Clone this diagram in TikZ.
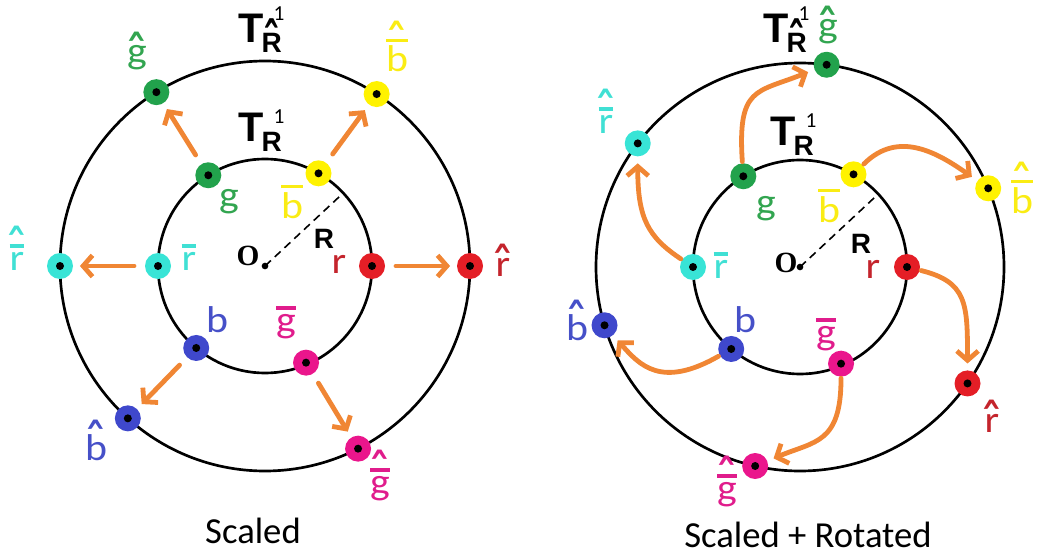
\documentclass[tikz,border=0pt]{standalone}
\usepackage{fontspec}
\setmainfont{Carlito}
\newfontfamily\serifO{Liberation Serif}
\newfontfamily\boldsans{Liberation Sans}
\usetikzlibrary{arrows.meta}
\definecolor{cgreen}{RGB}{34,162,76}
\definecolor{cyellow}{RGB}{255,242,0}
\definecolor{ccyan}{RGB}{56,228,214}
\definecolor{cred}{RGB}{228,30,38}
\definecolor{cblue}{RGB}{63,72,204}
\definecolor{cmag}{RGB}{234,22,140}
\definecolor{corange}{RGB}{240,134,52}
\definecolor{tgreen}{RGB}{50,165,80}
\definecolor{tyellow}{RGB}{250,236,20}
\definecolor{tcyan}{RGB}{64,224,212}
\definecolor{tred}{RGB}{196,36,44}
\definecolor{tblue}{RGB}{70,80,200}
\definecolor{tmag}{RGB}{224,28,140}
\newlength\labw
\newcommand\hatg{\smash{\raisebox{-0.97em}{\scalebox{1.25}[2.0]{\symbol{"02C6}}}}}
\newcommand\sx[1]{\scalebox{1.12}[1]{#1}}
\newcommand\Lhat[1]{\vbox{\offinterlineskip\halign{\hfil##\hfil\cr\hatg\cr#1\cr}}}
\newcommand\Lbar[1]{\settowidth\labw{#1}\vbox{\offinterlineskip\halign{\hfil##\hfil\cr\rule{\labw}{0.1em}\cr\noalign{\kern0.1em}#1\cr}}}
\newcommand\Lhb[1]{\settowidth\labw{#1}\vbox{\offinterlineskip\halign{\hfil##\hfil\cr\hatg\cr\noalign{\kern0.1em}\rule{\labw}{0.1em}\cr\noalign{\kern0.1em}#1\cr}}}
\newcommand\Tlab[2][14pt]{{\boldsans\bfseries\fontsize{31}{31}\selectfont T}\kern-1.5pt\rlap{\raisebox{-7.5pt}{\boldsans\bfseries\fontsize{21}{21}\selectfont #2}}\kern9pt\raisebox{#1}{\fontsize{16}{16}\selectfont 1}}
\tikzset{
  ring/.style={draw=black, line width=2pt},
  dotpt/.style={circle, minimum size=19.5pt, inner sep=0pt, fill=#1,
    path picture={\fill[black] (path picture bounding box.center) circle (3pt);}},
  lab/.style={anchor=base, inner sep=0pt, font=\fontsize{28}{30}\selectfont},
  tlab/.style={anchor=base west, inner sep=0pt},
  olab/.style={anchor=base, inner sep=0pt, font=\serifO\bfseries\fontsize{22}{24}\selectfont},
  rlab/.style={anchor=base, inner sep=0pt, font=\boldsans\bfseries\fontsize{21}{24}\selectfont},
  odot/.style={circle, fill=black, inner sep=0pt, minimum size=5pt},
  radius line/.style={draw=black, line width=1.2pt, dash pattern=on 6pt off 4pt},
  arr/.style={draw=corange, line width=3.6pt, line cap=round, line join=round,
    -{Straight Barb[length=7pt,width=16pt]}},
  sarr/.style={arr, shorten <=8pt, shorten >=5pt},
  carr/.style={arr, shorten <=1pt, shorten >=5pt},
  caption/.style={anchor=base, inner sep=0pt, font=\fontsize{27.5}{30}\selectfont}
}
\begin{document}
\begin{tikzpicture}[x=0.75pt,y=-0.75pt]
\useasboundingbox (0,0) rectangle (1037,556);
% ================= LEFT: Scaled =================
\node[odot] (Ol) at (265,266) {};
\draw[ring] (Ol.center) circle (107);
\draw[ring] (Ol.center) circle (205);
\coordinate (Lrad) at ([shift={(-43:107)}]Ol.center);
\draw[radius line] (Ol.center) -- (Lrad);
% inner points
\node[dotpt=cgreen]  (Lg)  at ([shift={(-122:107)}]Ol.center) {};
\node[dotpt=cyellow] (Lbb) at ([shift={(-60:107)}]Ol.center) {};
\node[dotpt=cred]    (Lr)  at ([shift={(0:107)}]Ol.center) {};
\node[dotpt=ccyan]   (Lrb) at ([shift={(180:107)}]Ol.center) {};
\node[dotpt=cblue]   (Lb)  at ([shift={(130:107)}]Ol.center) {};
\node[dotpt=cmag]    (Lgb) at ([shift={(67:105)}]Ol.center) {};
% outer points
\node[dotpt=cgreen]  (LG)  at ([shift={(-122:205)}]Ol.center) {};
\node[dotpt=cyellow] (LBB) at ([shift={(-57:205)}]Ol.center) {};
\node[dotpt=cred]    (LR)  at ([shift={(0:205)}]Ol.center) {};
\node[dotpt=ccyan]   (LRB) at ([shift={(180:205)}]Ol.center) {};
\node[dotpt=cblue]   (LB)  at ([shift={(132:205)}]Ol.center) {};
\node[dotpt=cmag]    (LGB) at ([shift={(63:205)}]Ol.center) {};
% arrows
\draw[sarr] (Lg) -- (LG);
\draw[sarr] (Lbb) -- (LBB);
\draw[sarr] (Lr) -- (LR);
\draw[sarr] (Lrb) -- (LRB);
\draw[sarr] (Lb) -- (LB);
\draw[sarr] (Lgb) -- (LGB);
% labels
\node[tlab] (LTo) at (238,43) {\Tlab[16.5pt]{\Lhat{R}}};
\node[tlab] (LTi) at (238,142) {\Tlab{R}};
\node[olab] (LO) at (248,265) {O};
\node[rlab] (LRl) at (324,248) {R};
\node[lab,text=tgreen]  (Lgl)  at (229,207) {\sx{g}};
\node[lab,text=tyellow] (Lbbl) at (292,218) {\sx{\Lbar{b}}};
\node[lab,text=tred]    (Lrl)  at (339,273) {\sx{r}};
\node[lab,text=tcyan]   (Lrbl) at (189,270) {\sx{\Lbar{r}}};
\node[lab,text=tblue]   (Lbl)  at (217,332) {\sx{b}};
\node[lab,text=tmag]    (Lgbl) at (286,332) {\sx{\Lbar{g}}};
\node[lab,text=tgreen]  (LGl)  at (137,64) {\sx{\Lhat{g}}};
\node[lab,text=tyellow] (LBBl) at (397,72) {\sx{\Lhb{b}}};
\node[lab,text=tred]    (LRl)  at (503,276) {\sx{\Lhat{r}}};
\node[lab,text=tcyan]   (LRBl) at (17,270) {\sx{\Lhb{r}}};
\node[lab,text=tblue]   (LBl)  at (96,460) {\sx{\Lhat{b}}};
\node[lab,text=tmag]    (LGBl) at (380,494) {\sx{\Lhb{g}}};
\node[caption] (Lcap) at (253,543) {Scaled};
% ================= RIGHT: Scaled + Rotated =================
\node[odot] (Or) at (800,267) {};
\draw[ring] (Or.center) circle (107);
\draw[ring] (Or.center) circle (204);
\coordinate (Rrad) at ([shift={(-43:107)}]Or.center);
\draw[radius line] (Or.center) -- (Rrad);
% inner points
\node[dotpt=cgreen]  (Rg)  at ([shift={(-122:107)}]Or.center) {};
\node[dotpt=cyellow] (Rbb) at ([shift={(-60:107)}]Or.center) {};
\node[dotpt=cred]    (Rr)  at ([shift={(0:107)}]Or.center) {};
\node[dotpt=ccyan]   (Rrb) at ([shift={(180:107)}]Or.center) {};
\node[dotpt=cblue]   (Rb)  at ([shift={(130:107)}]Or.center) {};
\node[dotpt=cmag]    (Rgb) at ([shift={(67:105)}]Or.center) {};
% outer points
\node[dotpt=cgreen]  (RG)  at ([shift={(-82.5:204)}]Or.center) {};
\node[dotpt=cyellow] (RBB) at ([shift={(-22.7:204)}]Or.center) {};
\node[dotpt=cred]    (RR)  at ([shift={(34.8:204)}]Or.center) {};
\node[dotpt=ccyan]   (RRB) at ([shift={(-142.7:204)}]Or.center) {};
\node[dotpt=cblue]   (RB)  at ([shift={(163.4:204)}]Or.center) {};
\node[dotpt=cmag]    (RGB) at ([shift={(102.7:204)}]Or.center) {};
% curved arrows
\draw[carr] (Rg) .. controls +(-6,-90) and +(-70,28) .. (RG);
\draw[carr] (Rrb) .. controls +(-45,-30) and +(0,75) .. (RRB);
\draw[carr] (Rbb) .. controls +(45,-45) and +(-50,-35) .. (RBB);
\draw[carr] (Rr) .. controls +(60,15) and +(0,-80) .. (RR);
\draw[carr] (Rgb) .. controls +(0,80) and +(60,-25) .. (RGB);
\draw[carr] (Rb) .. controls +(-70,40) and +(35,40) .. (RB);
% labels
\node[tlab] (RTo) at (763,43) {\Tlab[16.5pt]{\Lhat{R}}};
\node[tlab] (RTi) at (770,146) {\Tlab{R}};
\node[olab] (RO) at (786,272) {O};
\node[rlab] (RRl) at (861,253) {R};
\node[lab,text=tgreen]  (Rgl)  at (766,214) {\sx{g}};
\node[lab,text=tyellow] (Rbbl) at (829,222) {\sx{\Lbar{b}}};
\node[lab,text=tred]    (Rrl)  at (873,278) {\sx{r}};
\node[lab,text=tcyan]   (Rrbl) at (721,278) {\sx{\Lbar{r}}};
\node[lab,text=tblue]   (Rbl)  at (745,332) {\sx{b}};
\node[lab,text=tmag]    (Rgbl) at (826,344) {\sx{\Lbar{g}}};
\node[lab,text=tgreen]  (RGl)  at (828,38) {\sx{\Lhat{g}}};
\node[lab,text=tyellow] (RBBl) at (1022,213) {\sx{\Lhb{b}}};
\node[lab,text=tred]    (RRl)  at (992,432) {\sx{\Lhat{r}}};
\node[lab,text=tcyan]   (RRBl) at (606,133) {\sx{\Lhb{r}}};
\node[lab,text=tblue]   (RBl)  at (577,340) {\sx{\Lhat{b}}};
\node[lab,text=tmag]    (RGBl) at (727,500) {\sx{\Lhb{g}}};
\node[caption] (Rcap) at (808,547) {Scaled + Rotated};
\end{tikzpicture}
\end{document}
